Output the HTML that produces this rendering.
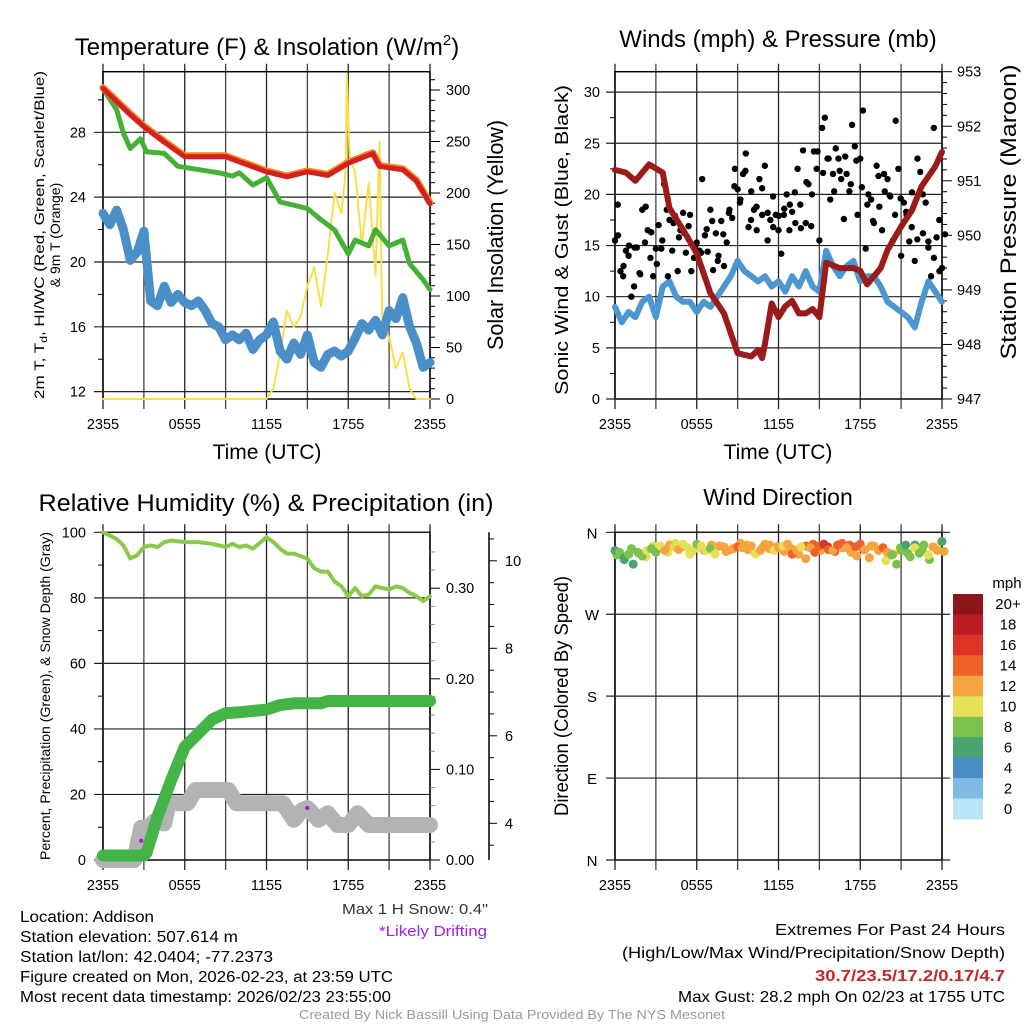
<!DOCTYPE html>
<html><head><meta charset="utf-8"><style>
html,body{margin:0;padding:0;background:#fff;}
svg{display:block;font-family:"Liberation Sans",sans-serif;}
</style></head><body>
<svg id="chart" width="1024" height="1024" viewBox="0 0 1024 1024" xmlns="http://www.w3.org/2000/svg">
<rect width="1024" height="1024" fill="#fff"/>
<text x="267" y="55" font-size="24" text-anchor="middle">Temperature (F) &amp; Insolation (W/m<tspan font-size="15" dy="-10">2</tspan><tspan dy="10">)</tspan></text>
<text x="778" y="47" font-size="24" text-anchor="middle">Winds (mph) &amp; Pressure (mb)</text>
<text x="266" y="511" font-size="24" text-anchor="middle" textLength="455" lengthAdjust="spacingAndGlyphs">Relative Humidity (%) &amp; Precipitation (in)</text>
<text x="778" y="505" font-size="23" text-anchor="middle">Wind Direction</text>
<text x="267" y="459" font-size="21" text-anchor="middle">Time (UTC)</text>
<text x="778" y="459" font-size="21" text-anchor="middle">Time (UTC)</text>
<text transform="translate(44,235) rotate(-90)" font-size="14" text-anchor="middle" textLength="328" lengthAdjust="spacingAndGlyphs">2m T, T<tspan font-size="10" dy="3">d</tspan><tspan dy="-3">, HI/WC (Red, Green, Scarlet/Blue)</tspan></text>
<text transform="translate(60,235) rotate(-90)" font-size="14" text-anchor="middle">&amp; 9m T (Orange)</text>
<text transform="translate(503,235) rotate(-90)" font-size="22" text-anchor="middle" textLength="230" lengthAdjust="spacingAndGlyphs">Solar Insolation (Yellow)</text>
<text transform="translate(568,240) rotate(-90)" font-size="18" text-anchor="middle" textLength="310" lengthAdjust="spacingAndGlyphs">Sonic Wind &amp; Gust (Blue, Black)</text>
<text transform="translate(1016,212) rotate(-90)" font-size="22" text-anchor="middle" textLength="295" lengthAdjust="spacingAndGlyphs">Station Pressure (Maroon)</text>
<text transform="translate(50,696) rotate(-90)" font-size="14" text-anchor="middle" textLength="328" lengthAdjust="spacingAndGlyphs">Percent, Precipitation (Green), &amp; Snow Depth (Gray)</text>
<text transform="translate(568,696) rotate(-90)" font-size="19" text-anchor="middle" textLength="240" lengthAdjust="spacingAndGlyphs">Direction (Colored By Speed)</text>
<text x="488" y="914" font-size="15" text-anchor="end" fill="#333" textLength="146" lengthAdjust="spacingAndGlyphs">Max 1 H Snow: 0.4"</text>
<text x="487" y="936" font-size="15" text-anchor="end" fill="#a020f0" textLength="108" lengthAdjust="spacingAndGlyphs">*Likely Drifting</text>
<g font-size="15.5">
<text x="20" y="922" textLength="134" lengthAdjust="spacingAndGlyphs">Location: Addison</text>
<text x="20" y="942" textLength="218" lengthAdjust="spacingAndGlyphs">Station elevation: 507.614 m</text>
<text x="20" y="962" textLength="253" lengthAdjust="spacingAndGlyphs">Station lat/lon: 42.0404; -77.2373</text>
<text x="20" y="982" textLength="373" lengthAdjust="spacingAndGlyphs">Figure created on Mon, 2026-02-23, at 23:59 UTC</text>
<text x="20" y="1002" textLength="371" lengthAdjust="spacingAndGlyphs">Most recent data timestamp: 2026/02/23 23:55:00</text>
</g>
<g font-size="16" text-anchor="end">
<text x="1005" y="935" textLength="230" lengthAdjust="spacingAndGlyphs">Extremes For Past 24 Hours</text>
<text x="1005" y="958" textLength="383" lengthAdjust="spacingAndGlyphs">(High/Low/Max Wind/Precipitation/Snow Depth)</text>
<text x="1005" y="981" font-weight="bold" fill="#c62828" textLength="190" lengthAdjust="spacingAndGlyphs">30.7/23.5/17.2/0.17/4.7</text>
<text x="1005" y="1002" textLength="327" lengthAdjust="spacingAndGlyphs">Max Gust: 28.2 mph On 02/23 at 1755 UTC</text>
</g>
<text x="512" y="1019" font-size="13" text-anchor="middle" fill="#999" textLength="426" lengthAdjust="spacingAndGlyphs">Created By Nick Bassill Using Data Provided By The NYS Mesonet</text>
<text x="1007" y="588" font-size="15" text-anchor="middle">mph</text>
</svg>
<script>
// ---------- data ----------
const timeLabels=["2355","0555","1155","1755","2355"];
const tempTicks=[12,16,20,24,28];
const insolTicks=[0,50,100,150,200,250,300];
const windTicks=[0,5,10,15,20,25,30];
const presTicks=[947,948,949,950,951,952,953];
const rhTicks=[0,20,40,60,80,100];
const precipTicks=["0.00","0.10","0.20","0.30"];
const snowTicks=[4,6,8,10];
const dirLabels=["N","W","S","E","N"];
const dirTickDeg=[360,270,180,90,0];
const cbarLabels=["20+","18","16","14","12","10","8","6","4","2","0"];
const cbarColors=["#8e161b","#bb1c24","#dc3327","#ef6128","#f6a340","#e6df58","#7cc14b","#4ba36f","#4a8cc4","#7fbbe3","#b9e3f7"];

const tRed=[0,1,2,3,4.5,6,9,12,13.5,15,16.5,18,19.8,20.3,22,23,24];
const redT=[30.7,29.9,29.1,28.35,27.4,26.5,26.5,25.57,25.26,25.57,25.35,26.1,26.7,25.9,25.7,25.0,23.6];
const orangeT=[30.75,29.95,29.15,28.4,27.45,26.55,26.55,25.62,25.31,25.62,25.4,26.15,26.75,25.95,25.75,25.05,23.65];
const tGreen=[0,1,1.5,2,2.75,3.2,4.5,5.5,8.5,9.5,10,11,12,13,14,15,16,17,18,18.5,19.5,20,21,22,22.5,23.5,24];
const greenT=[30.7,29.4,27.95,27.0,27.6,26.8,26.7,25.9,25.5,25.3,25.5,24.75,25.2,23.7,23.5,23.3,22.6,21.97,20.5,21.35,21,22,21,21.35,19.9,18.9,18.3];
const dewT=[23,22.3,23.2,22,20.1,20.6,21.9,17.6,17.3,18.5,17.5,18,17.5,17.3,17.6,17.0,16.2,16,15.2,15.5,15.2,15.6,14.6,15.2,15.5,16.3,14.5,14,15,14.3,15.5,13.8,13.5,14.3,14.5,14.2,14.5,15.3,16.2,15.8,16.4,15.5,17,16.5,17.8,16,15,13.5,13.8];
const tInsol=[0,12,12.5,13,13.5,14,14.5,15,15.5,16,16.5,17,17.5,17.8,17.9,18.1,18.5,19,19.5,20,20.3,20.5,21,21.5,22,22.5,23,24];
const insol=[0,0,10,44,86,70,80,110,128,90,140,200,180,220,315,235,220,150,210,120,250,70,60,30,45,10,0,0];

const windSpd=[9,7.5,8.5,8,9.5,10,8,11,11.5,10,9.5,9.5,8.5,9.5,9,10,11,12,13.5,12.5,12,11.5,12,11,11.5,10.5,12,11,12.5,11,10.5,14.5,13,12,13,13.5,11.5,12,12,11,9.5,9,8.5,8,7,9.5,11.5,10.5,9.5];
const gusts=[15.5,19,12.5,12,14.5,14,10,11,14.8,12.3,18.5,
15.3,16.5,13.8,12,14.7,17,14.7,21,18.5,17.5,
14.5,17.9,12.5,16.5,18.2,14.3,16.9,12.5,13.8,15.3,
14.5,21.5,16,14.4,18.5,12.6,16.2,14,17.4,13,
15.3,18.5,17.7,22.5,20.5,19.5,22,24,16.8,20.3,
18.5,16.5,21.5,18,22.8,15.5,17.5,19.8,18,16.5,
14.2,18,20,16.5,18.3,20.2,22.5,19,24.3,17.2,
21,16.9,24.2,22.5,15.5,26.5,27.5,23.5,19.5,22,
24.5,23.5,21.5,17.6,22,20.3,26.8,24.7,18,23.5,
28.2,14.7,20,19.5,17.2,22.8,18.8,16.5,20.3,21.5,
19.8,15.5,27.2,22.5,14,19.2,18,15.4,20.2,13.5,
23.5,22.2,16.2,19.2,14.8,12,26.5,15.8,17.5,12.8];
const gusts2=[16,13,15,14.8,12.2,18.8,16.3,13.2,15.5,12,
17.2,15.8,16.2,18,15,14.3,16.6,17.4,13.5,16.1,
18.2,20.8,19.2,22.3,17.5,18.8,20.6,18.2,16.8,17.9,
18.6,19,17.2,16.7,21.2,20,24.2,22.1,23.5,20.3,
22.3,23.7,21,23.3,20.7,19,17.4,21.8,22,19.9,
18,19.6,18.3,16.8,15.6,20,15.4,13.8,12.5,16.1];
const tPres=[0,0.8,1.5,2.5,3.5,4,5,6,7,8,9,10,10.5,10.8,11,11.5,12,12.5,13,13.5,14,14.5,15,15.5,16.5,17.5,18,18.5,19.5,20,21,21.8,22.5,23.5,24];
const pres=[951.2,951.15,951.0,951.3,951.15,950.5,950.1,949.67,948.94,948.57,947.84,947.78,947.9,947.75,948.0,948.75,948.5,948.7,948.8,948.57,948.57,948.65,948.5,949.5,949.4,949.4,949.35,949.1,949.4,949.73,950.16,950.46,950.9,951.26,951.53];

const tRH=[0,0.5,1,1.5,2,2.5,3,3.5,4,4.5,5,6,7,8,9,9.5,10,10.5,11,12,12.5,13,13.5,14,15,15.5,16,16.5,17,17.5,18,18.5,19,19.5,20,20.5,21,21.5,22,22.5,23,23.5,24];
const rh=[100,99,98,96,92,93,95.5,96,95.5,97,97.5,97,97,96.5,95.5,96.5,95.5,96,95,98.5,97,95,93.5,93.5,92,89,88,88,85,83.5,80.5,83,80.5,81,83.5,83,82.5,83.5,83,81.5,80.5,79,80.5];
const tPrecip=[0,3,3.2,4,5,6,7,8,9,10,12,13,14,16,16.5,24];
const precip=[0.005,0.005,0.008,0.048,0.088,0.125,0.14,0.155,0.162,0.163,0.166,0.171,0.173,0.173,0.1755,0.1755];
const tSnow=[0,2.3,2.8,3.3,3.8,4.5,4.8,6.2,6.8,9.2,9.8,13.2,14,14.6,15,15.8,16.5,17.2,18,18.7,19.5,24];
const snow=[3.16,3.16,3.9,3.9,4.05,4.0,4.46,4.46,4.76,4.76,4.46,4.46,4.08,4.3,4.35,4.08,4.23,3.96,3.96,4.23,3.96,3.96];
const driftT=[2.8,15];
const driftS=[3.6,4.35];

const dirDeg=[340,338,332,336,325,338,334,340,342,338,345,340,
346,344,341,347,343,339,347,345,340,342,336,345,
344,340,342,344,343,346,345,336,340,347,342,340,
343,345,347,336,340,344,331,343,338,345,347,341,
340,346,348,343,338,344,347,341,332,345,340,343,
338,335,325,340,346,333,343,337,346,335,344,340,350];
const dirSpd=[7,8,7,8,7,8,9,11,8,8,10,12,
12,11,12,10,11,10,8,11,10,9,11,12,
12,13,12,14,12,13,12,11,12,13,12,11,
12,10,13,14,12,11,12,13,15,14,16,14,
13,14,15,13,12,15,14,13,12,13,12,14,
13,8,9,8,7,8,10,9,8,11,12,13,7];
const dirDeg2=[335,330,342,337,333,345,343,338,348,344,336,343,
340,346,344,339,342,348,341,337,343,346,344,339,
342,336,345,347,340,344,339,343,346,334,341,345,
340,329,336,343,337,346,341,330,344,339];
const dirSpd2=[8,7,9,8,10,11,12,10,11,12,10,11,
12,12,11,12,13,12,12,11,12,13,12,12,
13,12,14,15,13,16,14,13,15,12,14,13,
12,10,12,9,8,7,8,9,11,12];

// ---------- helpers ----------
const NS="http://www.w3.org/2000/svg";
const svg=document.getElementById('chart');
function mk(tag,attrs,parent){const e=document.createElementNS(NS,tag);for(const k in attrs)e.setAttribute(k,attrs[k]);(parent||svg).appendChild(e);return e;}
function txt(s,x,y,size,anchor){const e=mk('text',{x:x,y:y,'font-size':size,'text-anchor':anchor||'middle'});e.textContent=s;return e;}
function line(x1,y1,x2,y2,c,w){return mk('line',{x1:x1,y1:y1,x2:x2,y2:y2,stroke:c||'#000','stroke-width':w||1});}
function poly(xs,ys,c,w){let d='';for(let i=0;i<xs.length;i++)d+=(i?' ':'')+xs[i].toFixed(1)+','+ys[i].toFixed(1);return mk('polyline',{points:d,fill:'none',stroke:c,'stroke-width':w,'stroke-linejoin':'round','stroke-linecap':'round'});}
const uniT=n=>{const a=[];for(let i=0;i<n;i++)a.push(24*i/(n-1));return a;};

const PL=103,PR=430,P2L=615,P2R=942,TOP=71.7,BOT=399,TOP3=532.3,BOT3=860;
const xA=t=>PL+t*(PR-PL)/24;
const xB=t=>P2L+t*(P2R-P2L)/24;
const yT=v=>132.3-(v-28)*16.21;
const yS=v=>399-v*1.03;
const yW=v=>399-v*10.23;
const yP=v=>399-(v-947)*54.55;
const yRH=v=>860-v*3.277;
const yPr=v=>860-v*906;
const ySn=v=>823.3-(v-4)*43.75;
const yD=d=>860-d*0.9103;

function frame(L,R,T,B,name){
  const g=mk('g',{});
  
  
  for(let i=0;i<=8;i++){const x=L+i*(R-L)/8;const l=line(x,T-8,x,B+10,i%2?'#444':'#222',1.3);g.appendChild(l);
    
    }
  const r=mk('rect',{x:L,y:T,width:R-L,height:B-T,fill:'none',stroke:'#000','stroke-width':1.5},g);
  
  
  timeLabels.forEach((s,i)=>{const t=txt(s,L+i*(R-L)/4,B+30,14.5);
    
    });
  return g;
}
function hgrid(y,L,R){const l=line(L-9,y,R,y,'#222',1.2);
  
  }

// ---------- panel 1 ----------
frame(PL,PR,TOP,BOT,'temperature-plot');
tempTicks.forEach(v=>{hgrid(yT(v),PL,PR);const t=txt(String(v),86,yT(v)+5,14.5,'end');
  
  });
[14,18,22,26,30].forEach(v=>line(PL-5,yT(v),PL,yT(v),'#000',1));
for(let v=0;v<=310;v+=10){line(PR,yS(v),PR+(v%50?5:10),yS(v),'#000',1);}
insolTicks.forEach(v=>{const t=txt(String(v),446,yS(v)+5,14.5,'start');
  
  });
let e;
e=poly(tInsol.map(xA),insol.map(yS),'#f7df4c',2);


e=poly(uniT(dewT.length).map(xA),dewT.map(yT),'#4a8fc8',9);


e=poly(tGreen.map(xA),greenT.map(yT),'#44b035',5);


e=poly(tRed.map(xA),orangeT.map(yT),'#f08a24',7);


e=poly(tRed.map(xA),redT.map(yT),'#d42020',5);



// ---------- panel 2 ----------
frame(P2L,P2R,TOP,BOT,'wind-plot');
windTicks.forEach(v=>{hgrid(yW(v),P2L,P2R);const t=txt(String(v),600,yW(v)+5,14.5,'end');
  
  });
[2.5,7.5,12.5,17.5,22.5,27.5].forEach(v=>line(P2L-5,yW(v),P2L,yW(v),'#000',1));
for(let v=947;v<=953.001;v+=0.2){const maj=Math.abs(v-Math.round(v))<0.01;line(P2R,yP(v),P2R+(maj?10:5),yP(v),'#000',1);}
presTicks.forEach(v=>{const t=txt(String(v),957,yP(v)+5,14.5,'start');
  
  });
e=poly(uniT(windSpd.length).map(xB),windSpd.map(yW),'#4d97d0',6);


const gT=uniT(gusts.length);
gusts.forEach((v,i)=>{const c=mk('circle',{cx:xB(gT[i]),cy:yW(v),r:3.2,fill:'#000'});
  
  });
const gT2=uniT(gusts2.length);
gusts2.forEach((v,i)=>{const c=mk('circle',{cx:xB(gT2[i])+3,cy:yW(v),r:3.2,fill:'#000'});
  
  });
e=poly(tPres.map(xB),pres.map(yP),'#9b1a1a',6);



// ---------- panel 3 ----------
frame(PL,PR,TOP3,BOT3,'humidity-plot');
rhTicks.forEach(v=>{hgrid(yRH(v),PL,PR);const t=txt(String(v),86,yRH(v)+5,14.5,'end');
  
  });
[10,30,50,70,90].forEach(v=>line(PL-5,yRH(v),PL,yRH(v),'#000',1));
for(let v=0;v<=0.36;v+=0.02){const maj=Math.abs(v*10-Math.round(v*10))<0.01;line(PR,yPr(v),PR+(maj?10:5),yPr(v),maj?'#000':'#888',1);}
precipTicks.forEach(s=>{const t=txt(s,446,yPr(parseFloat(s))+5,14.5,'start');
  
  });
e=line(489,TOP3,489,BOT3,'#000',1.5);


for(let v=3.5;v<=10.5;v+=0.5){const maj=v%2===0;line(489,ySn(v),489+(maj?8:5),ySn(v),'#000',1);}
snowTicks.forEach(v=>{const t=txt(String(v),505,ySn(v)+5,14.5,'start');
  
  });
e=poly(tSnow.map(xA),snow.map(ySn),'#b3b3b3',16);


e=poly(tPrecip.map(xA),precip.map(yPr),'#45b447',12);


e=poly(tRH.map(xA),rh.map(yRH),'#8cc84b',4);


driftT.forEach((t,i)=>{const c=mk('circle',{cx:xA(t),cy:ySn(driftS[i]),r:2.2,fill:'#a020f0'});
  
  });

// ---------- panel 4 ----------
frame(P2L,P2R,TOP3,BOT3,'direction-plot');
dirTickDeg.forEach((d,i)=>{const l=line(P2L-9,yD(d),950,yD(d),'#222',1.2);
  
  
  const t=txt(dirLabels[i],592,yD(d)+6,15);
  
  });
function dirDots(degs,spds,off){const tt=uniT(degs.length);
  degs.forEach((d,i)=>{const idx=10-Math.min(10,Math.floor(spds[i]/2));
    const c=mk('circle',{cx:xB(tt[i])+off,cy:yD(d),r:4.5,fill:cbarColors[idx]});
    
    });}
dirDots(dirDeg2,dirSpd2,2);
dirDots(dirDeg,dirSpd,0);
cbarColors.forEach((c,i)=>{const h=225/11;const r=mk('rect',{x:953,y:594+i*h,width:30,height:h+0.5,fill:c});
  
  
  const t=txt(cbarLabels[i],1008,594+i*h+h/2+5,15);
  
  });
</script>
</body></html>
